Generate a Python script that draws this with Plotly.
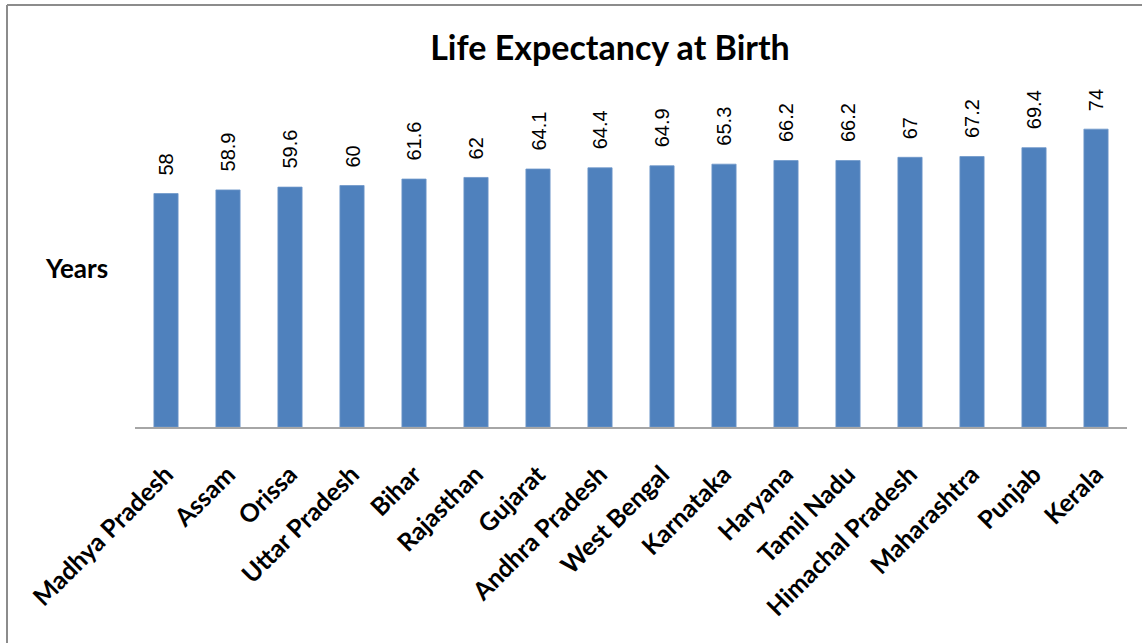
import plotly.graph_objects as go

states = ["Madhya Pradesh", "Assam", "Orissa", "Uttar Pradesh", "Bihar", "Rajasthan",
          "Gujarat", "Andhra Pradesh", "West Bengal", "Karnataka", "Haryana",
          "Tamil Nadu", "Himachal Pradesh", "Maharashtra", "Punjab", "Kerala"]
life_expectancy = [58, 58.9, 59.6, 60, 61.6, 62, 64.1, 64.4, 64.9, 65.3, 66.2, 66.2, 67, 67.2, 69.4, 74]
value_labels = ["58", "58.9", "59.6", "60", "61.6", "62", "64.1", "64.4", "64.9", "65.3",
                "66.2", "66.2", "67", "67.2", "69.4", "74"]

W, H = 1142, 643
L, R, T, B = 135, 15, 105, 216
pw, ph = W - L - R, H - T - B

fig = go.Figure()
fig.add_trace(go.Bar(
    x=states, y=life_expectancy,
    marker=dict(color="#4F81BD", line=dict(color="#6F97C9", width=0.8)),
    width=0.39, hoverinfo="x+y",
))

for s, v, t in zip(states, life_expectancy, value_labels):
    fig.add_annotation(x=s, y=v, text=t, textangle=-90, showarrow=False,
                       xanchor="center", yanchor="bottom", yshift=16,
                       font=dict(family="Liberation Sans, Arial", size=20, color="#000000"))

def px_x(p):
    return (p - L) / pw

def px_y(p):
    return (H - B - p) / ph

# chart border (top and left edges visible)
fig.add_shape(type="line", xref="paper", yref="paper",
              x0=px_x(7), x1=px_x(1150), y0=px_y(5), y1=px_y(5),
              line=dict(color="#8C8C8C", width=2))
fig.add_shape(type="line", xref="paper", yref="paper",
              x0=px_x(7), x1=px_x(7), y0=px_y(5), y1=px_y(650),
              line=dict(color="#8C8C8C", width=2))

fig.add_annotation(xref="paper", yref="paper", x=px_x(76), y=px_y(268), text="<b>Years</b>",
                   showarrow=False, xanchor="center", yanchor="middle",
                   font=dict(family="Lato", size=26, color="#000000"))

fig.update_layout(
    width=W, height=H,
    margin=dict(l=L, r=R, t=T, b=B, autoexpand=False),
    paper_bgcolor="white", plot_bgcolor="white",
    title=dict(text="<b>Life Expectancy at Birth</b>", x=(610) / W, xanchor="center",
               y=1 - 48 / H, yanchor="middle",
               font=dict(family="Lato", size=34, color="#000000")),
    showlegend=False,
    bargap=0.61,
    xaxis=dict(showline=True, linecolor="#A6A6A6", linewidth=2, ticks="",
               tickangle=-45, tickfont=dict(family="Lato", size=25, color="#000000", weight="bold"),
               showgrid=False, ticklabelstandoff=21),
    yaxis=dict(range=[0, 80], visible=False, showgrid=False, zeroline=False),
)

fig.write_html("out.html", config={"displayModeBar": False},
               post_script="document.body.style.margin='0';document.body.style.padding='0';")
